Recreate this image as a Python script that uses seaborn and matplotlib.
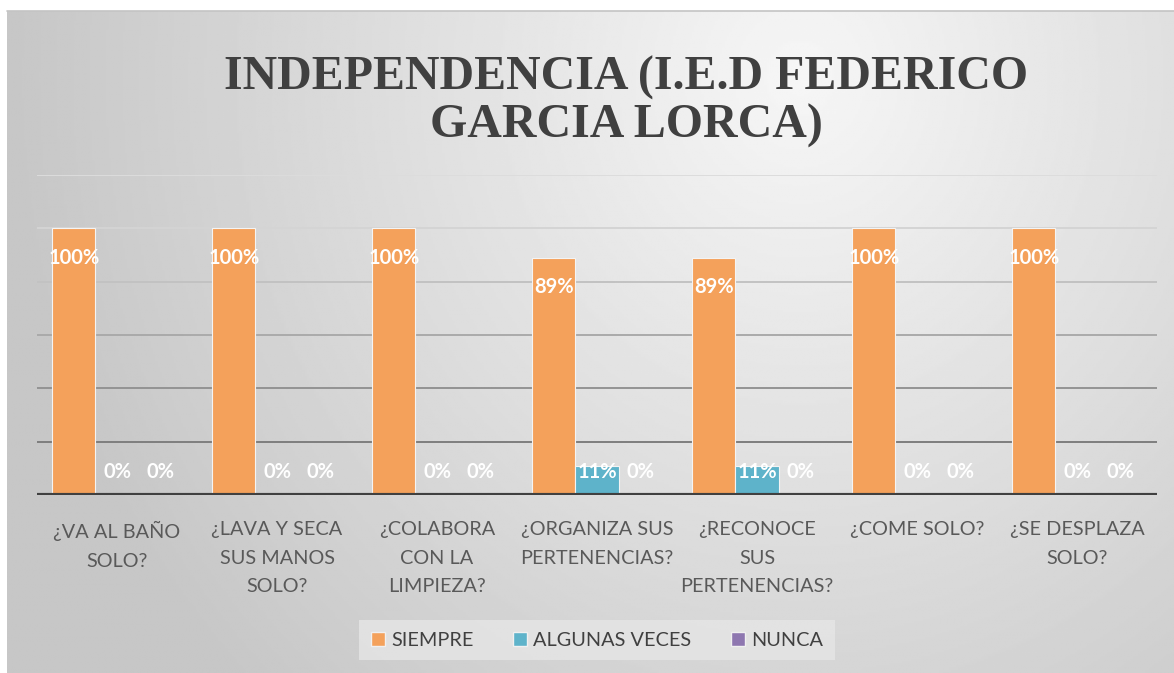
import numpy as np
import pandas as pd
import matplotlib.pyplot as plt
import seaborn as sns

# datos del grafico
preguntas = ["¿VA AL BAÑO\nSOLO?", "¿LAVA Y SECA\nSUS MANOS\nSOLO?", "¿COLABORA\nCON LA\nLIMPIEZA?",
             "¿ORGANIZA SUS\nPERTENENCIAS?", "¿RECONOCE\nSUS\nPERTENENCIAS?", "¿COME SOLO?",
             "¿SE DESPLAZA\nSOLO?"]
siempre = [1.00, 1.00, 1.00, 0.89, 0.89, 1.00, 1.00]
algunas_veces = [0.0, 0.0, 0.0, 0.11, 0.11, 0.0, 0.0]
nunca = [0.0, 0.0, 0.0, 0.0, 0.0, 0.0, 0.0]
respuestas = ["SIEMPRE", "ALGUNAS VECES", "NUNCA"]
colores = ["#F4A15B", "#5EB3CA", "#8E77B0"]

df = pd.DataFrame({
    "pregunta": preguntas * 3,
    "respuesta": np.repeat(respuestas, len(preguntas)),
    "valor": siempre + algunas_veces + nunca,
})

sns.set_style("white")
plt.rcParams["font.family"] = ["Lato", "DejaVu Sans"]

fig = plt.figure(figsize=(11.74, 6.73), dpi=100)

# fondo degradado
bg = fig.add_axes([7 / 1174, 0, 1 - 7 / 1174, 1 - 11 / 673], zorder=-5)
yy, xx = np.mgrid[0:1:300j, 0:1:500j]
d = np.sqrt(((xx - 0.68) * 1.25) ** 2 + ((yy - 0.1) * 0.65) ** 2)
grad = np.clip(0.965 - 0.22 * d, 0.78, 0.965)
bg.imshow(grad, cmap="gray", vmin=0, vmax=1, aspect="auto", extent=[0, 1, 1, 0])
bg.set_axis_off()
fig.add_artist(plt.Line2D([7 / 1174, 1], [1 - 11 / 673] * 2, color="#c4c4c4", lw=1.2))

ax = fig.add_axes([37 / 1174, 1 - 495 / 673, 1120 / 1174, 320 / 673])
ax.patch.set_alpha(0)

grid_colors = ["#7e7e7e", "#939393", "#aaaaaa", "#c2c2c2", "#d4d4d4", "#dcdcdc"]
for g, c in zip([0.2, 0.4, 0.6, 0.8, 1.0, 1.2], grid_colors):
    ax.axhline(g, color=c, lw=1.4, zorder=0)

sns.barplot(data=df, x="pregunta", y="valor", hue="respuesta", palette=colores,
            width=0.81, saturation=1, edgecolor="#f4f4f4", linewidth=0.8, ax=ax, zorder=2)

# etiquetas de datos
for i, serie in enumerate([siempre, algunas_veces, nunca]):
    for j, v in enumerate(serie):
        x = j + (i - 1) * 0.27
        y = max(v - 0.11, 0.088)
        ax.text(x, y, f"{round(v * 100)}%", ha="center", va="center", color="white",
                fontsize=14.5, fontweight="bold", zorder=5)

ax.axhline(0, color="#404040", lw=3, zorder=4)
ax.set_ylim(0, 1.2)
ax.set_xlim(-0.5, 6.5)
ax.set_yticks([])
ax.set_xticks(range(len(preguntas)))
ax.set_xticklabels([])
ax.tick_params(axis="x", length=0)
ax.set_xlabel("")
ax.set_ylabel("")
# etiquetas de categorias con interlineado amplio
for j, p in enumerate(preguntas):
    ax.text(j, -0.082, p, transform=ax.get_xaxis_transform(), ha="center", va="top",
            multialignment="center", linespacing=1.82, color="#595959", fontsize=14.3)
sns.despine(ax=ax, left=True, bottom=True)

ax.legend_.remove()
handles = [plt.Rectangle((0, 0), 1, 1, facecolor=c, edgecolor="#f0f0f0") for c in colores]
leg = fig.legend(handles, respuestas, loc="center", bbox_to_anchor=(597 / 1174, 1 - 640 / 673),
                 ncol=3, frameon=True, fontsize=14.3, handlelength=0.7, handleheight=0.7,
                 handletextpad=0.3, columnspacing=2.0, borderpad=0.6, fancybox=False)
leg.get_frame().set_facecolor("#e6e6e6")
leg.get_frame().set_edgecolor("none")
for t in leg.get_texts():
    t.set_color("#404040")

fig.text(626 / 1174, 1 - 102 / 673, "INDEPENDENCIA (I.E.D FEDERICO\nGARCIA LORCA)", ha="center",
         va="center", fontsize=34.5, fontweight="bold", color="#404040",
         fontfamily="Liberation Serif", linespacing=1.12)

fig.savefig("out.png", dpi=100)
